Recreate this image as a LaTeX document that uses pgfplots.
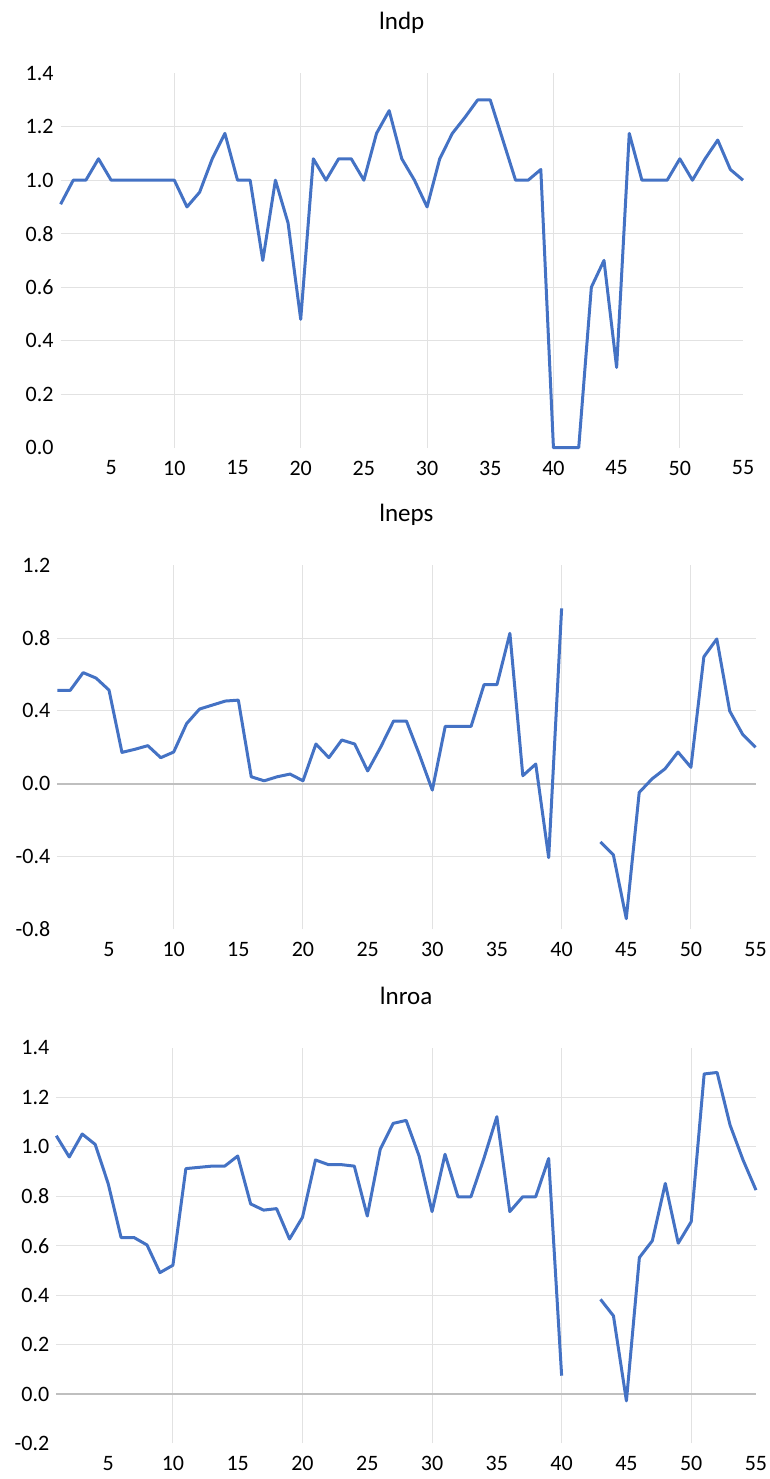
\documentclass[border=0pt]{standalone}
\usepackage{fontspec}
\setmainfont{Carlito}
\usepackage{pgfplots}
\usepackage{pgfplotstable}
\pgfplotsset{compat=1.18}
\definecolor{xlblue}{RGB}{68,114,196}
\definecolor{gridc}{RGB}{226,226,226}
\definecolor{zeroc}{RGB}{191,191,191}

\pgfplotstableread{
x y
1 0.91
2 1.00
3 1.00
4 1.08
5 1.00
6 1.00
7 1.00
8 1.00
9 1.00
10 1.00
11 0.90
12 0.955
13 1.08
14 1.175
15 1.00
16 1.00
17 0.70
18 1.00
19 0.84
20 0.48
21 1.08
22 1.00
23 1.08
24 1.08
25 1.00
26 1.175
27 1.26
28 1.08
29 1.00
30 0.90
31 1.08
32 1.175
33 1.235
34 1.30
35 1.30
36 1.15
37 1.00
38 1.00
39 1.04
40 0
41 0
42 0
43 0.60
44 0.70
45 0.30
46 1.175
47 1.00
48 1.00
49 1.00
50 1.08
51 1.00
52 1.08
53 1.15
54 1.04
55 1.00
}\lndp

\pgfplotstableread{
x y
1 0.513
2 0.513
3 0.610
4 0.580
5 0.514
6 0.172
7 0.189
8 0.209
9 0.143
10 0.174
11 0.330
12 0.410
13 0.432
14 0.454
15 0.459
16 0.038
17 0.016
18 0.038
19 0.053
20 0.016
21 0.218
22 0.143
23 0.240
24 0.218
25 0.070
26 0.200
27 0.344
28 0.344
29 0.160
30 -0.035
31 0.315
32 0.315
33 0.315
34 0.544
35 0.544
36 0.826
37 0.044
38 0.108
39 -0.406
40 0.963
41 nan
42 nan
43 -0.320
44 -0.390
45 -0.741
46 -0.048
47 0.027
48 0.082
49 0.174
50 0.090
51 0.697
52 0.795
53 0.399
54 0.271
55 0.200
}\lneps

\pgfplotstableread{
x y
1 1.045
2 0.959
3 1.052
4 1.010
5 0.852
6 0.633
7 0.633
8 0.603
9 0.491
10 0.521
11 0.912
12 0.917
13 0.922
14 0.922
15 0.963
16 0.769
17 0.744
18 0.750
19 0.627
20 0.715
21 0.947
22 0.928
23 0.928
24 0.922
25 0.720
26 0.990
27 1.095
28 1.107
29 0.963
30 0.738
31 0.970
32 0.798
33 0.798
34 0.953
35 1.122
36 0.738
37 0.798
38 0.798
39 0.953
40 0.074
41 nan
42 nan
43 0.383
44 0.316
45 -0.028
46 0.552
47 0.620
48 0.852
49 0.610
50 0.697
51 1.295
52 1.301
53 1.088
54 0.947
55 0.825
}\lnroa

\pgfplotsset{
  myaxis/.style={
    scale only axis,
    anchor=south west,
    xmin=1, xmax=55,
    axis line style={draw=none},
    major tick length=0pt,
    xtick={5,10,...,55},
    xticklabels={5,10,15,20,25,30,35,40,45,50,55},
    extra x ticks={10,20,30,40,50},
    extra x tick labels={},
    extra x tick style={grid=major, major tick length=0pt},
    extra y tick labels={},
    extra y tick style={grid=major, major tick length=0pt},
    grid style={gridc, line width=0.5pt},
    tick label style={font=\fontsize{11pt}{13pt}\selectfont},
    xticklabel style={yshift=-3pt},
    title style={at={(0.5,1)}, anchor=base, yshift=16pt, font=\fontsize{12.5pt}{15pt}\selectfont},
    unbounded coords=jump,
    clip=false,
  },
  myline/.style={xlblue, line width=1.5pt, line join=round, no markers},
}

\begin{document}
\begin{tikzpicture}
\useasboundingbox (0,0) rectangle (385pt,739.5pt);

\begin{axis}[myaxis, at={(30.3pt,515.65pt)}, width=341.2pt, height=187.25pt,
  ymin=0, ymax=1.4,
  ytick={0,0.2,0.4,0.6,0.8,1.0,1.2,1.4},
  yticklabels={0.0,0.2,0.4,0.6,0.8,1.0,1.2,1.4},
  extra y ticks={0.2,0.4,0.6,0.8,1.0,1.2},
  title={lndp}]
\addplot[myline] table[x=x,y=y] {\lndp};
\end{axis}

\begin{axis}[myaxis, at={(28.65pt,274.8pt)}, width=349.15pt, height=182.1pt,
  ymin=-0.8, ymax=1.2,
  ytick={-0.8,-0.4,0,0.4,0.8,1.2},
  yticklabels={-0.8,-0.4,0.0,0.4,0.8,1.2},
  extra y ticks={-0.4,0.4,0.8},
  title={lneps}]
\draw[zeroc, line width=0.9pt] (axis cs:1,0) -- (axis cs:55,0);
\addplot[myline] table[x=x,y=y] {\lneps};
\end{axis}

\begin{axis}[myaxis, at={(28.15pt,17.8pt)}, width=349.85pt, height=197.7pt,
  ymin=-0.2, ymax=1.4,
  ytick={-0.2,0,0.2,0.4,0.6,0.8,1.0,1.2,1.4},
  yticklabels={-0.2,0.0,0.2,0.4,0.6,0.8,1.0,1.2,1.4},
  extra y ticks={0.2,0.4,0.6,0.8,1.0,1.2},
  title={lnroa}]
\draw[zeroc, line width=0.9pt] (axis cs:1,0) -- (axis cs:55,0);
\addplot[myline] table[x=x,y=y] {\lnroa};
\end{axis}
\end{tikzpicture}
\end{document}
